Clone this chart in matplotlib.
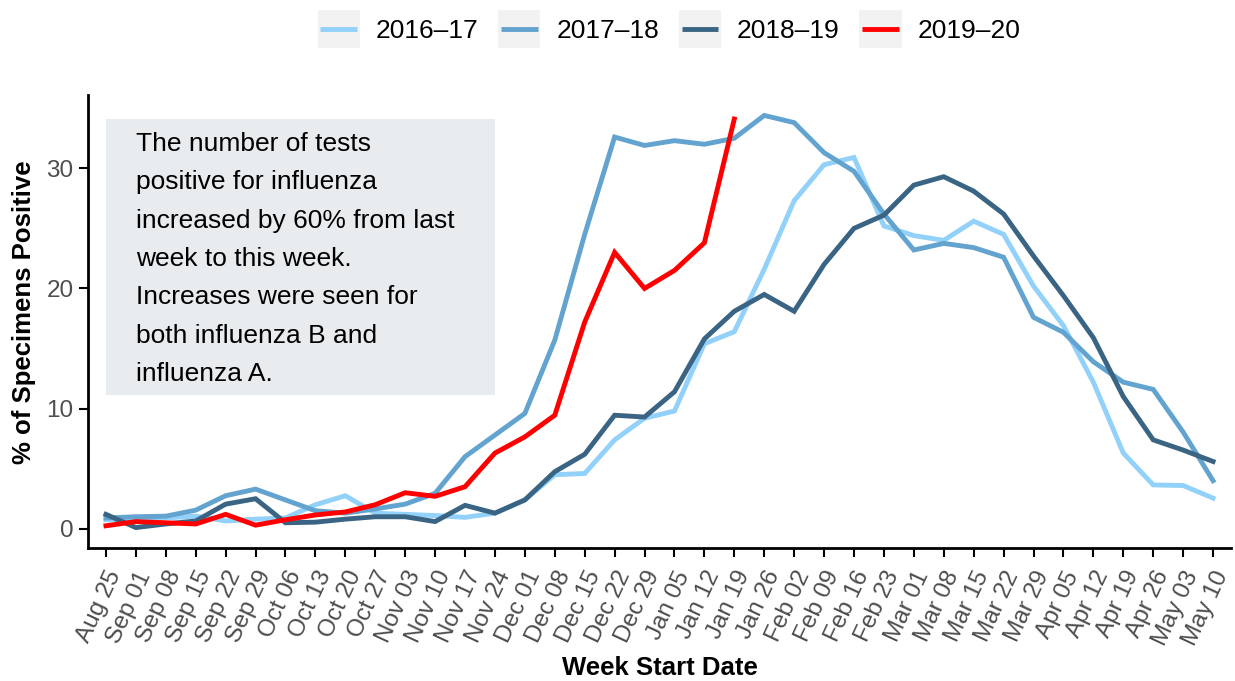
import matplotlib
matplotlib.use('Agg')
import matplotlib.pyplot as plt
from matplotlib.lines import Line2D
from matplotlib.patches import Rectangle
from matplotlib.legend_handler import HandlerLine2D

plt.rcParams['font.family'] = ['Liberation Sans', 'DejaVu Sans']

weeks = ['Aug 25', 'Sep 01', 'Sep 08', 'Sep 15', 'Sep 22', 'Sep 29', 'Oct 06', 'Oct 13',
         'Oct 20', 'Oct 27', 'Nov 03', 'Nov 10', 'Nov 17', 'Nov 24', 'Dec 01', 'Dec 08',
         'Dec 15', 'Dec 22', 'Dec 29', 'Jan 05', 'Jan 12', 'Jan 19', 'Jan 26', 'Feb 02',
         'Feb 09', 'Feb 16', 'Feb 23', 'Mar 01', 'Mar 08', 'Mar 15', 'Mar 22', 'Mar 29',
         'Apr 05', 'Apr 12', 'Apr 19', 'Apr 26', 'May 03', 'May 10']

s1617 = [0.75, 0.8, 0.9, 1.05, 0.65, 0.8, 0.9, 2.0, 2.75, 1.3, 1.2, 1.1, 0.95, 1.3, 2.4,
         4.5, 4.6, 7.4, 9.2, 9.8, 15.4, 16.4, 21.6, 27.3, 30.3, 30.9, 25.2, 24.4, 24.0,
         25.6, 24.5, 20.2, 16.9, 12.2, 6.3, 3.65, 3.6, 2.55]
s1718 = [0.9, 1.0, 1.05, 1.55, 2.75, 3.3, 2.4, 1.5, 1.3, 1.65, 2.05, 2.95, 6.0, 7.8, 9.6,
         15.7, 24.5, 32.6, 31.9, 32.3, 32.0, 32.5, 34.4, 33.8, 31.3, 29.75, 26.2, 23.2,
         23.75, 23.4, 22.6, 17.6, 16.35, 13.9, 12.2, 11.6, 8.05, 4.0]
s1819 = [1.2, 0.1, 0.4, 0.65, 2.05, 2.5, 0.5, 0.55, 0.8, 1.0, 1.0, 0.6, 1.95, 1.3, 2.4,
         4.75, 6.2, 9.45, 9.3, 11.4, 15.8, 18.1, 19.5, 18.1, 22.0, 25.0, 26.1, 28.6, 29.3,
         28.1, 26.2, 22.7, 19.4, 15.9, 11.0, 7.4, 6.55, 5.6]
s1920 = [0.25, 0.6, 0.5, 0.4, 1.2, 0.3, 0.75, 1.15, 1.4, 2.0, 3.0, 2.7, 3.5, 6.3, 7.65,
         9.45, 17.2, 23.0, 20.0, 21.5, 23.8, 34.1]

seasons = ['2016–17', '2017–18', '2018–19', '2019–20']
colors = ['#91D1FA', '#62A3CF', '#3A6483', '#FF0000']

note = ('The number of tests\npositive for influenza\nincreased by 60% from last\n'
        'week to this week.\nIncreases were seen for\nboth influenza B and\ninfluenza A.')


class KeyHandler(HandlerLine2D):
    # grey key background like ggplot legend keys
    def create_artists(self, legend, orig_handle, xdescent, ydescent, width, height,
                       fontsize, trans):
        bg = Rectangle((-xdescent, -ydescent - 2), width, height + 4,
                       facecolor='#F2F2F2', edgecolor='none', transform=trans)
        yc = -ydescent + height / 2
        ln = Line2D([-xdescent + 2, -xdescent + width - 2], [yc, yc],
                    color=orig_handle.get_color(), lw=orig_handle.get_linewidth(),
                    solid_capstyle='butt')
        ln.set_transform(trans)
        return [bg, ln]


fig = plt.figure(figsize=(12.35, 6.81), dpi=100)
ax = fig.add_axes([88 / 1235, 1 - 548 / 681, (1231 - 88) / 1235, (548 - 95) / 681])

ax.add_patch(Rectangle((0, 11.1), 13, 23.0, facecolor='#E8ECEF', edgecolor='none', zorder=1))
ax.text(1.0, 22.45, note, fontsize=19, ha='left', va='center', linespacing=1.76, zorder=2)

handles = []
for vals, lab, col in zip([s1617, s1718, s1819, s1920], seasons, colors):
    h, = ax.plot(range(len(vals)), vals, color=col, lw=3.5, label=lab, zorder=3,
                 solid_joinstyle='miter')
    handles.append(h)

ax.set_xlim(-0.6, 37.6)
ax.set_ylim(-1.6, 36.1)
ax.set_xticks(range(len(weeks)))
ax.set_xticklabels(weeks, rotation=65, ha='right', va='top', rotation_mode='anchor')
ax.set_yticks([0, 10, 20, 30])
ax.tick_params(axis='both', length=6.5, width=1.5, color='black', labelcolor='#4D4D4D',
               labelsize=17.5, pad=4)
ax.tick_params(axis='x', pad=7.5)
for side in ['top', 'right']:
    ax.spines[side].set_visible(False)
for side in ['left', 'bottom']:
    ax.spines[side].set_linewidth(2)

fig.text(659.5 / 1235, 1 - 668 / 681, 'Week Start Date', fontsize=18.5, fontweight='bold',
         ha='center', va='center')
fig.text(24 / 1235, 1 - 312 / 681, '% of Specimens Positive', fontsize=18.5,
         fontweight='bold', ha='center', va='center', rotation=90)

fig.legend(handles=handles, labels=seasons, loc='center', ncol=4, frameon=False,
           bbox_to_anchor=(669 / 1235, 1 - 29 / 681), fontsize=19, handlelength=1.6,
           handleheight=1.5, handletextpad=0.6, columnspacing=0.75,
           handler_map={Line2D: KeyHandler()})

fig.savefig('out.png', dpi=100)
